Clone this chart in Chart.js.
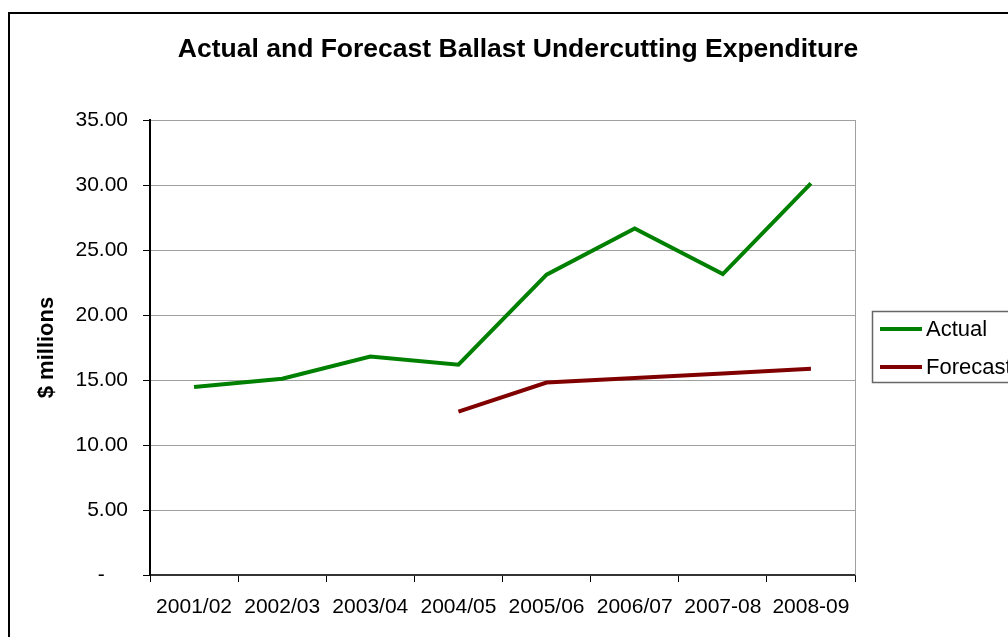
<!DOCTYPE html>
<html>
<head>
<meta charset="utf-8">
<script src="https://cdn.jsdelivr.net/npm/chart.js@4.4.0/dist/chart.umd.min.js"></script>
<style>
  html, body { margin: 0; padding: 0; background: #fff; }
  #wrap { width: 1008px; height: 637px; position: relative; }
</style>
</head>
<body>
<div id="wrap"><canvas id="chart" width="1008" height="637"></canvas></div>
<script>
  // chart data
  var years = ["2001/02", "2002/03", "2003/04", "2004/05", "2005/06", "2006/07", "2007-08", "2008-09"];
  var actual = [14.46, 15.1, 16.8, 16.18, 23.1, 26.65, 23.15, 30.12];
  var forecast = [null, null, null, 12.56, 14.8, 15.15, 15.5, 15.87];
  var yTicks = [0, 5, 10, 15, 20, 25, 30, 35];

  var chartTitle = "Actual and Forecast Ballast Undercutting Expenditure";
  var yTitle = "$ millions";
  var FONT = "'Liberation Sans', Arial, sans-serif";

  // outer frame, title and the boxed legend on the right
  var framePlugin = {
    id: 'frame',
    afterDraw: function (chart) {
      var ctx = chart.ctx;
      ctx.save();
      ctx.strokeStyle = '#000';
      ctx.lineWidth = 2;
      ctx.strokeRect(9, 13, 1010, 640);

      ctx.fillStyle = '#000';
      ctx.font = 'bold 26.5px ' + FONT;
      ctx.textAlign = 'center';
      ctx.textBaseline = 'middle';
      ctx.fillText(chartTitle, 518, 50);

      // legend
      ctx.strokeStyle = '#666';
      ctx.lineWidth = 1.5;
      ctx.strokeRect(872.5, 311.5, 200, 71);
      ctx.font = '22px ' + FONT;
      ctx.textAlign = 'left';
      chart.data.datasets.forEach(function (ds, i) {
        var y = 329 + i * 38;
        ctx.strokeStyle = ds.borderColor;
        ctx.lineWidth = 4;
        ctx.beginPath();
        ctx.moveTo(880, y);
        ctx.lineTo(922, y);
        ctx.stroke();
        ctx.fillStyle = '#000';
        ctx.fillText(ds.label, 926, y + 1);
      });
      ctx.restore();
    }
  };

  var ctx = document.getElementById('chart').getContext('2d');
  new Chart(ctx, {
    type: 'line',
    data: {
      labels: years,
      datasets: [{
        label: 'Actual',
        data: actual,
        borderColor: '#008000',
        borderWidth: 4,
        pointRadius: 0,
        tension: 0,
        fill: false
      }, {
        label: 'Forecast',
        data: forecast,
        borderColor: '#800000',
        borderWidth: 4,
        pointRadius: 0,
        tension: 0,
        fill: false
      }]
    },
    options: {
      responsive: false,
      animation: false,
      layout: { padding: { left: 34, right: 153, top: 120, bottom: 0 } },
      plugins: {
        legend: { display: false },
        title: { display: false },
        tooltip: { enabled: false }
      },
      scales: {
        x: {
          offset: true,
          grid: { offset: true, drawOnChartArea: false, tickLength: 7, color: '#000' },
          border: { color: '#333', width: 2 },
          ticks: { color: '#000', font: { family: FONT, size: 21 }, padding: 13, maxRotation: 0, autoSkip: false },
          afterFit: function (scale) { scale.height = 62; }
        },
        y: {
          min: 0,
          max: 35,
          afterBuildTicks: function (scale) {
            scale.ticks = yTicks.map(function (v) { return { value: v }; });
          },
          grid: { color: '#a0a0a0', lineWidth: 1, tickLength: 7, tickColor: '#000' },
          border: { color: '#000', width: 2 },
          ticks: {
            color: '#000',
            font: { family: FONT, size: 21 },
            padding: 15,
            callback: function (v) { return v === 0 ? '-    ' : v.toFixed(2); }
          },
          title: {
            display: true,
            text: yTitle,
            color: '#000',
            font: { family: FONT, size: 22, weight: 'bold' },
            padding: 0
          },
          afterFit: function (scale) { scale.width = 116; }
        }
      }
    },
    plugins: [framePlugin, {
      id: 'plotRight',
      afterDraw: function (chart) {
        var a = chart.chartArea, c = chart.ctx;
        c.save();
        c.strokeStyle = '#a0a0a0';
        c.lineWidth = 1;
        c.beginPath();
        c.moveTo(Math.round(a.right) + 0.5, a.top);
        c.lineTo(Math.round(a.right) + 0.5, a.bottom);
        c.stroke();
        c.restore();
      }
    }]
  });
</script>
</body>
</html>
